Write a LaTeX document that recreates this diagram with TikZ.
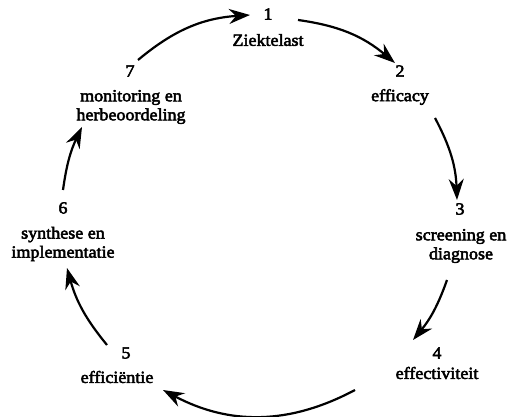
\documentclass[tikz,border=0pt]{standalone}
\usepackage{fontspec}
\setmainfont{Liberation Serif}[FakeStretch=1.06,FakeBold=3]
\usetikzlibrary{arrows.meta}
\begin{document}
\begin{tikzpicture}[x=1pt,y=1pt,
  lbl/.style={font=\fontsize{17pt}{19pt}\selectfont, inner sep=0pt, align=center},
  cyc/.style={line width=2.2pt, -{Stealth[length=21pt,width=15pt,inset=7pt]}}]
\useasboundingbox (0,0) rectangle (508,417);

% stage labels
\node[lbl] (n1) at (268,403) {1};
\node[lbl] (l1) at (268,377) {Ziektelast};
\node[lbl] (n2) at (400,346) {2};
\node[lbl] (l2) at (400,320) {efficacy};
\node[lbl] (n3) at (460,208) {3};
\node[lbl] (l3) at (461,171) {screening en\\diagnose};
\node[lbl] (n4) at (437,64) {4};
\node[lbl] (l4) at (437,44) {effectiviteit};
\node[lbl] (n5) at (126,64) {5};
\node[lbl] (l5) at (117,40) {efficiëntie};
\node[lbl] (n6) at (63,209) {6};
\node[lbl] (l6) at (63,173) {synthese en\\implementatie};
\node[lbl] (n7) at (130,346) {7};
\node[lbl] (l7) at (131,310) {monitoring en\\herbeoordeling};

% arrow end points on the cycle
\coordinate (a7s) at (138,357); \coordinate (a1e) at (250,402);
\coordinate (a1s) at (298,397); \coordinate (a2e) at (395,354);
\coordinate (a2s) at (435,299); \coordinate (a3e) at (457,217);
\coordinate (a3s) at (447,137); \coordinate (a4e) at (413,77);
\coordinate (a4s) at (355,27);  \coordinate (a5e) at (163,27);
\coordinate (a5s) at (107,72);  \coordinate (a6e) at (67,149);
\coordinate (a6s) at (63,227);  \coordinate (a7e) at (82,290);

% clockwise cycle
\draw[cyc] (a7s) to[bend left=18] (a1e);
\draw[cyc] (a1s) to[bend left=16] (a2e);
\draw[cyc] (a2s) to[bend left=13] (a3e);
\draw[cyc] (a3s) to[bend left=10] (a4e);
\draw[cyc] (a4s) to[bend left=28] (a5e);
\draw[cyc] (a5s) to[bend left=12] (a6e);
\draw[cyc] (a6s) to[bend left=9] (a7e);
\end{tikzpicture}
\end{document}
